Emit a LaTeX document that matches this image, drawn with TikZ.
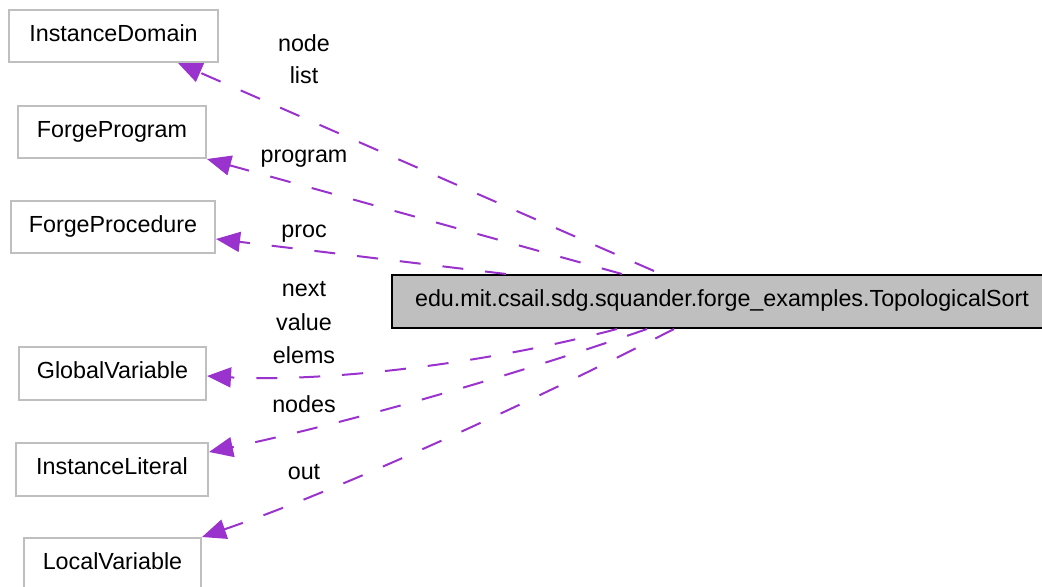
\documentclass[tikz,border=0pt]{standalone}
\usepackage{fontspec}
\setmainfont{Liberation Sans}
\usetikzlibrary{arrows.meta}
\definecolor{edgecol}{HTML}{9A32CD}
\definecolor{boxgray}{HTML}{BFBFBF}
\begin{document}
\begin{tikzpicture}[x=0.5pt,y=-0.5pt,
  every node/.style={font=\fontsize{11.65}{14}\selectfont},
  cls/.style={draw=boxgray,line width=1pt,inner sep=0pt,text height=0.72em,text depth=0.21em},
  mainbox/.style={draw=black,fill=boxgray,line width=1pt,inner sep=0pt,text height=0.72em,text depth=0.21em},
  rel/.style={draw=edgecol,line width=1pt,dash pattern=on 10.5pt off 11pt,-{Triangle[length=12pt,width=10pt]}},
  lbl/.style={anchor=base,inner sep=0pt}]
\useasboundingbox (0,0) rectangle (1042,587);
\node[cls,minimum width=104.5pt,minimum height=26pt] (idom) at (113.5,36) {InstanceDomain};
\node[cls,minimum width=94pt,minimum height=26pt] (fprog) at (112,132) {ForgeProgram};
\node[cls,minimum width=102pt,minimum height=26pt] (fproc) at (113,227) {ForgeProcedure};
\node[cls,minimum width=93.5pt,minimum height=26.5pt] (gvar) at (112.5,373.5) {GlobalVariable};
\node[cls,minimum width=96pt,minimum height=26.5pt] (ilit) at (112,469.5) {InstanceLiteral};
\node[cls,minimum width=88.5pt,minimum height=26pt] (lvar) at (112.5,564) {LocalVariable};
\node[mainbox,minimum width=330pt,minimum height=26.5pt] (main) at (722,301.5) {edu.mit.csail.sdg.squander.forge\_examples.TopologicalSort};

\draw[rel] ([xshift=131.5pt,yshift=1.5pt]main.north west) -- ([xshift=85pt]idom.south west);
\draw[rel] ([xshift=115.5pt]main.north west) -- (fprog.south east);
\draw[rel] ([xshift=57.5pt]main.north west) -- ([yshift=-6pt]fproc.east);
\draw[rel] ([xshift=113pt]main.south west) .. controls (470,368) and (310,382) .. ([yshift=-1.25pt]gvar.east);
\draw[rel] ([xshift=128pt]main.south west) .. controls (500,380) and (338,425) .. ([yshift=8.75pt]ilit.east);
\draw[rel] ([xshift=141.5pt]main.south west) .. controls (535,400) and (345,488) .. (lvar.north east);

\node[lbl] (lnode) at (304,52) {node};
\node[lbl] (llist) at (304,84) {list};
\node[lbl] (lprog) at (304,163) {program};
\node[lbl] (lproc) at (304,238) {proc};
\node[lbl] (lnext) at (304,297) {next};
\node[lbl] (lvalue) at (304,330) {value};
\node[lbl] (lelems) at (304,363) {elems};
\node[lbl] (lnodes) at (304,412) {nodes};
\node[lbl] (lout) at (304,479) {out};
\end{tikzpicture}
\end{document}
